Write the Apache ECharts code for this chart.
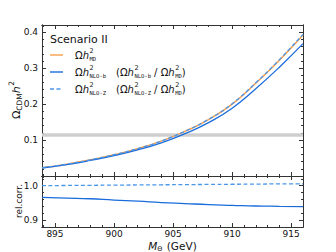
<!DOCTYPE html>
<html><head><meta charset="utf-8">
<script src="https://cdn.jsdelivr.net/npm/echarts@6/dist/echarts.min.js"></script>
<style>html,body{margin:0;padding:0;background:#fff}#c{width:336px;height:252px}</style>
</head><body><div id="c"></div>
<script>
// ---- data ----
const xVals  = [893.9, 896, 898, 900, 902, 904, 906, 908, 910, 912, 914, 916];
const omegaMD   = [0.023, 0.033, 0.045, 0.059, 0.076, 0.097, 0.124, 0.157, 0.200, 0.258, 0.322, 0.392];
const omegaNLOb = [0.0222, 0.0318, 0.0433, 0.0565, 0.0726, 0.0922, 0.1176, 0.1484, 0.1886, 0.2428, 0.3027, 0.3681];
const omegaNLOZ = [0.023, 0.0330, 0.0450, 0.0591, 0.0762, 0.0972, 0.1244, 0.1575, 0.2008, 0.2592, 0.3236, 0.3940];
const ratioB = [0.966, 0.964, 0.962, 0.958, 0.955, 0.951, 0.948, 0.945, 0.943, 0.941, 0.940, 0.939];
const ratioZ = [1.000, 1.0005, 1.001, 1.0015, 1.002, 1.0025, 1.003, 1.0035, 1.004, 1.0045, 1.005, 1.005];
const planckBand = [0.109, 0.119];
const xMajorTicks = [895, 900, 905, 910, 915];
const xMinorTicks = [894, 896, 897, 898, 899, 901, 902, 903, 904, 906, 907, 908, 909, 911, 912, 913, 914];
const yTopMajor = [0.1, 0.2, 0.3, 0.4];
const yTopMinor = [0.02, 0.04, 0.06, 0.08, 0.12, 0.14, 0.16, 0.18, 0.22, 0.24, 0.26, 0.28, 0.32, 0.34, 0.36, 0.38];
const yBotMajor = [0.9, 1.0];
const yBotMinor = [0.92, 0.94, 0.96, 0.98, 1.02];

const X_MIN = 893.9, X_MAX = 916;
const FONT = 'DejaVu Sans';
const AX = '#333';
const ORANGE = '#f9a04c', BLUE = '#1a6cdb', LBLUE = '#4a97ea';

const pairs = (ys) => xVals.map((x, i) => [x, ys[i]]);
const chart = echarts.init(document.getElementById('c'), null, {renderer: 'svg'});

function xAx(grid, pos, ticks, len, labels) {
  return {
    type: 'value', gridIndex: grid, position: pos, min: X_MIN, max: X_MAX,
    axisLine: {show: true, onZero: false, lineStyle: {color: AX, width: 1}},
    axisTick: {show: true, inside: true, length: len, customValues: ticks, lineStyle: {color: AX, width: 1}},
    axisLabel: labels ? {show: true, customValues: ticks, formatter: v => String(Math.round(v)), fontFamily: FONT, fontSize: 9, color: '#111', margin: 2}
                      : {show: false},
    splitLine: {show: false}
  };
}
function yAx(grid, pos, min, max, ticks, len, labels) {
  return {
    type: 'value', gridIndex: grid, position: pos, min: min, max: max,
    axisLine: {show: true, onZero: false, lineStyle: {color: AX, width: 1}},
    axisTick: {show: true, inside: true, length: len, customValues: ticks, lineStyle: {color: AX, width: 1}},
    axisLabel: labels ? {show: true, customValues: ticks, formatter: v => v.toFixed(1), fontFamily: FONT, fontSize: 9, color: '#111', margin: 4}
                      : {show: false},
    splitLine: {show: false}
  };
}

// ---- math text helper ----
const mctx = document.createElement('canvas').getContext('2d');
function fontStr(p) { return (p.italic ? 'italic ' : '') + p.size + 'px ' + (p.family || FONT); }
function measure(p) { mctx.font = fontStr(p); return mctx.measureText(p.t).width; }
function txt(t, x, y, size, opts) {
  opts = opts || {};
  return {type: 'text', x: x, y: y, silent: true, z: 10,
    style: {text: t, fontSize: size, fontFamily: opts.family || FONT, fontStyle: opts.italic ? 'italic' : 'normal',
            fill: '#111', verticalAlign: 'middle', align: 'left'}};
}
function layout(pieces, x0, y0) {
  let x = x0; const out = [];
  pieces.forEach(p => {
    if (p.stack) {
      let w = 0;
      p.stack.forEach(s => { out.push(txt(s.t, x, y0 + s.dy, s.size, s)); w = Math.max(w, measure(s)); });
      x += w + (p.after || 0);
    } else {
      out.push(txt(p.t, x, y0 + (p.dy || 0), p.size, p));
      x += measure(p) + (p.after || 0);
    }
  });
  return {els: out, width: x - x0};
}
function widthOf(pieces) { return layout(pieces, 0, 0).width; }

const LS = 10;
function omegaTerm(sub) {
  return [
    {t: 'Ω', size: LS},
    {t: 'h', size: LS, italic: true, after: 0.5},
    {stack: [{t: '2', size: 6.5, dy: -4.5}, {t: sub, size: 5.5, dy: 3.5, family: 'DejaVu Sans Mono'}]}
  ];
}
function ratioTerm(sub) {
  return [{t: '(', size: LS}].concat(omegaTerm(sub), [{t: ' / ', size: LS}], omegaTerm('MD'), [{t: ')', size: LS}]);
}

const legendEls = [];
legendEls.push(txt('Scenario II', 50, 39, 11));
const rows = [
  {y: 55, color: ORANGE, dash: null, pieces: omegaTerm('MD')},
  {y: 72, color: BLUE, dash: null, pieces: omegaTerm('NLO-b'), extra: ratioTerm('NLO-b')},
  {y: 89, color: LBLUE, dash: [4, 2.5], pieces: omegaTerm('NLO-Z'), extra: ratioTerm('NLO-Z')}
];
rows.forEach(r => {
  const ls = {stroke: r.color, lineWidth: 1.4};
  if (r.dash) ls.lineDash = r.dash;
  legendEls.push({type: 'line', silent: true, z: 10, shape: {x1: 50, y1: r.y, x2: 63, y2: r.y}, style: ls});
  legendEls.push(...layout(r.pieces, 75, r.y).els);
  if (r.extra) legendEls.push(...layout(r.extra, 116, r.y).els);
});

function rotatedName(pieces, cx, cy) {
  const w = widthOf(pieces);
  return {type: 'group', x: cx, y: cy, rotation: Math.PI / 2, children: layout(pieces, -w / 2, 0).els};
}
const yName1 = rotatedName([
  {t: 'Ω', size: 11},
  {t: 'CDM', size: 7.5, dy: 3.5},
  {t: 'h', size: 11, italic: true, after: 0.5},
  {t: '2', size: 7.5, dy: -5}
], 16, 100);
const yName2 = rotatedName([{t: 'rel.corr.', size: 9}], 19, 201);
const xNamePieces = [
  {t: 'M', size: 10.5, italic: true},
  {t: 'Θ', size: 6.5, dy: 3, after: 1},
  {t: ' (GeV)', size: 10.5}
];
const xnw = widthOf(xNamePieces);
const xName = layout(xNamePieces, 172.5 - xnw / 2, 246).els;

chart.setOption({
  animation: false,
  backgroundColor: '#fff',
  grid: [
    {left: 42, right: 33, top: 25, height: 151},
    {left: 42, right: 33, top: 176, height: 51}
  ],
  xAxis: [
    xAx(0, 'bottom', xMajorTicks, 4, false),
    xAx(0, 'bottom', xMinorTicks, 2, false),
    xAx(0, 'top', xMajorTicks, 4, false),
    xAx(0, 'top', xMinorTicks, 2, false),
    xAx(1, 'bottom', xMajorTicks, 4, true),
    xAx(1, 'bottom', xMinorTicks, 2, false),
    xAx(1, 'top', xMajorTicks, 4, false),
    xAx(1, 'top', xMinorTicks, 2, false)
  ],
  yAxis: [
    yAx(0, 'left', 0, 0.42, yTopMajor, 4, true),
    yAx(0, 'left', 0, 0.42, yTopMinor, 2, false),
    yAx(0, 'right', 0, 0.42, yTopMajor, 4, false),
    yAx(0, 'right', 0, 0.42, yTopMinor, 2, false),
    yAx(1, 'left', 0.88, 1.028, yBotMajor, 4, true),
    yAx(1, 'left', 0.88, 1.028, yBotMinor, 2, false),
    yAx(1, 'right', 0.88, 1.028, yBotMajor, 4, false),
    yAx(1, 'right', 0.88, 1.028, yBotMinor, 2, false)
  ],
  series: [
    {type: 'line', name: 'MD', xAxisIndex: 0, yAxisIndex: 0, data: pairs(omegaMD), smooth: 0.5,
     showSymbol: false, lineStyle: {color: ORANGE, width: 1.5},
     markArea: {silent: true, itemStyle: {color: '#cfcfcf'}, data: [[{yAxis: planckBand[0]}, {yAxis: planckBand[1]}]]}},
    {type: 'line', name: 'NLO-b', xAxisIndex: 0, yAxisIndex: 0, data: pairs(omegaNLOb), smooth: 0.5,
     showSymbol: false, lineStyle: {color: BLUE, width: 1.3}},
    {type: 'line', name: 'NLO-Z', xAxisIndex: 0, yAxisIndex: 0, data: pairs(omegaNLOZ), smooth: 0.5,
     showSymbol: false, lineStyle: {color: LBLUE, width: 1.3, type: [4, 2.5]}},
    {type: 'line', name: 'ratio b', xAxisIndex: 4, yAxisIndex: 4, data: pairs(ratioB), smooth: 0.5,
     showSymbol: false, lineStyle: {color: BLUE, width: 1.3}},
    {type: 'line', name: 'ratio Z', xAxisIndex: 4, yAxisIndex: 4, data: pairs(ratioZ), smooth: 0.5,
     showSymbol: false, lineStyle: {color: LBLUE, width: 1.3, type: [4, 2.5]}}
  ],
  graphic: [].concat(legendEls, [yName1, yName2], xName)
});
</script></body></html>
